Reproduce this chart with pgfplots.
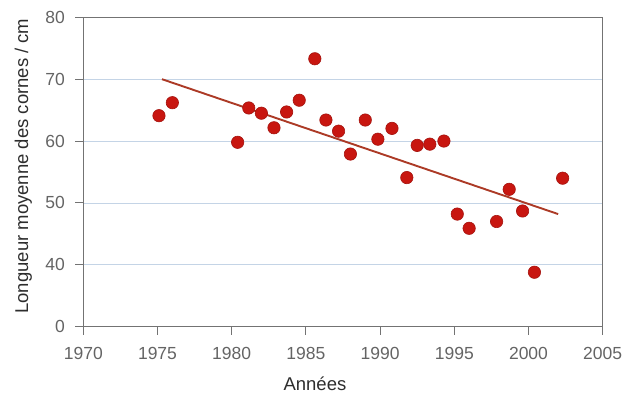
\documentclass[border=0pt]{standalone}
\usepackage{fontspec}
\setmainfont{Liberation Sans}
\usepackage{pgfplots}
\pgfplotsset{compat=1.18}
\definecolor{ptred}{RGB}{200,22,16}
\definecolor{ptedge}{RGB}{165,20,15}
\definecolor{trend}{RGB}{172,58,38}
\definecolor{gridc}{RGB}{196,212,230}
\definecolor{axc}{RGB}{115,115,115}
\definecolor{tickc}{RGB}{100,100,100}
\definecolor{labc}{RGB}{45,45,45}
\begin{document}
\begin{tikzpicture}
\begin{axis}[
  scale only axis,
  width=519.4bp, height=309.4bp,
  xmin=1970, xmax=2005,
  ymin=30, ymax=80,
  xtick={1970,1975,...,2005},
  ytick={30,40,50,60,70,80},
  yticklabels={0,40,50,60,70,80},
  xtick pos=left, ytick pos=left,
  tick align=outside,
  major tick length=8bp,
  axis line style={axc, line width=1.2bp},
  tick style={axc, line width=1.1bp},
  ymajorgrids,
  grid style={gridc, line width=0.8bp},
  /pgf/number format/assume math mode=true,
  /pgf/number format/1000 sep={},
  tick label style={font=\fontsize{17.5bp}{20bp}\selectfont, text=tickc},
  xticklabel style={yshift=-9bp},
  yticklabel style={xshift=-7bp},
  xlabel={Années},
  ylabel={Longueur moyenne des cornes / cm},
  label style={font=\fontsize{18.5bp}{21bp}\selectfont, text=labc},
  x label style={at={(axis description cs:0.446,-0.205)}, anchor=base},
  y label style={at={(axis description cs:-0.106,0.519)}, anchor=base},
]
\addplot[trend, line width=1.9bp] coordinates {(1975.3,70.0) (2002.0,48.2)};
\addplot[only marks, mark=*, mark size=6.2bp, mark options={fill=ptred, draw=ptedge, line width=0.6bp}] coordinates {
(1975.1,64.1) (1976.0,66.2) (1980.4,59.8) (1981.15,65.35) (1982.0,64.5)
(1982.85,62.15) (1983.7,64.7) (1984.55,66.6) (1985.6,73.3) (1986.35,63.4)
(1987.2,61.6) (1988.0,57.9) (1989.0,63.4) (1989.85,60.3) (1990.8,62.05)
(1991.8,54.1) (1992.5,59.3) (1993.35,59.5) (1994.3,60.0) (1995.2,48.2)
(1996.0,45.9) (1997.85,47.0) (1998.7,52.2) (1999.6,48.7) (2000.4,38.8)
(2002.3,54.0)
};
\end{axis}
\pgfresetboundingbox
\path[use as bounding box] (current axis.south west) ++(-83.3bp,-67.3bp) rectangle ++(625bp,394bp);
\end{tikzpicture}
\end{document}
